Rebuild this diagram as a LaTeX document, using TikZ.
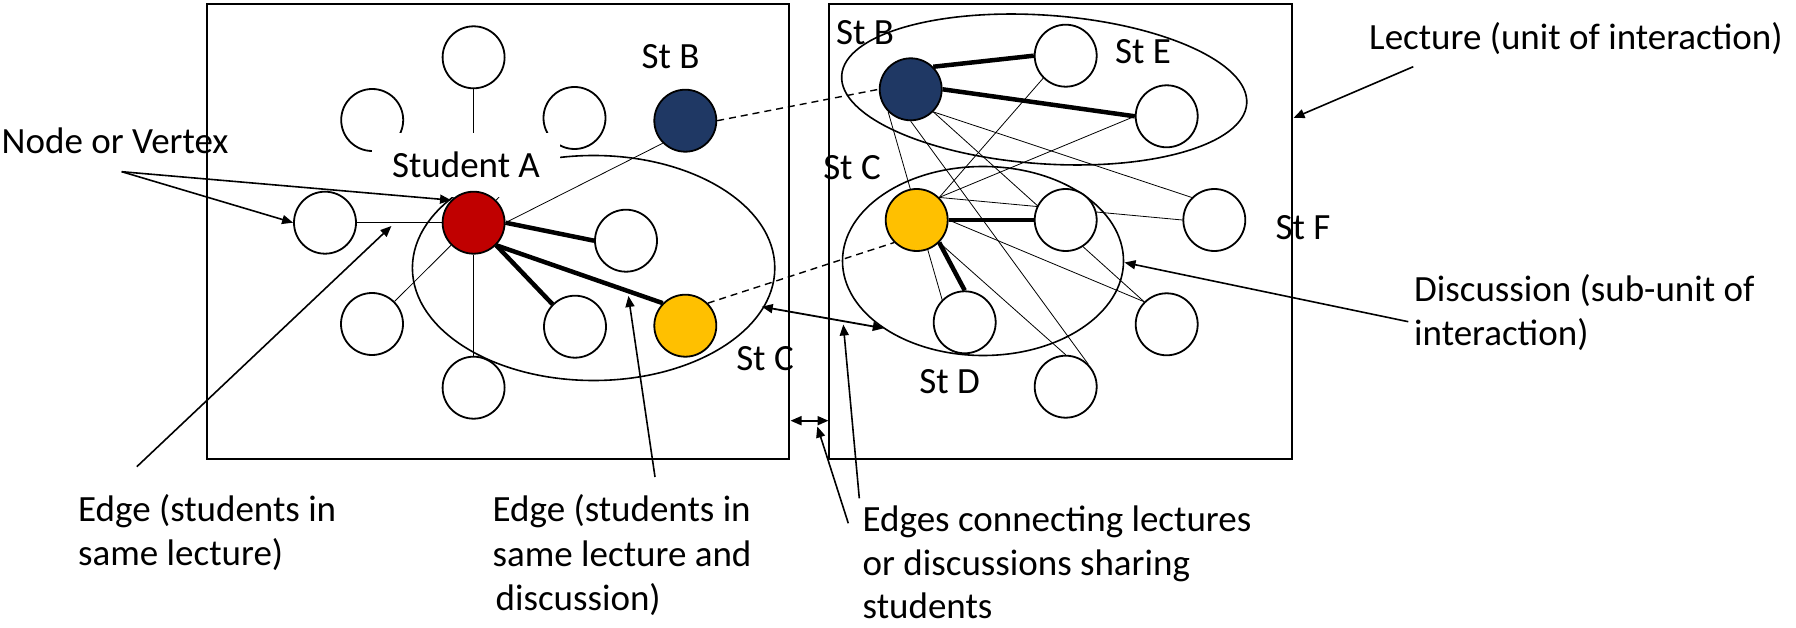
\documentclass[tikz,border=0pt]{standalone}
\usepackage{fontspec}
\setmainfont{Carlito}
\usetikzlibrary{arrows.meta}
\pgfdeclarelayer{back}
\pgfdeclarelayer{mask}
\pgfsetlayers{back,mask,main}
\definecolor{stred}{HTML}{C00000}
\definecolor{stnavy}{HTML}{1F3864}
\definecolor{styellow}{HTML}{FFC000}
\begin{document}
\begin{tikzpicture}[x=1pt,y=-1pt,
  stu/.style={circle,draw=black,line width=1.8pt,fill=white,minimum size=62pt,inner sep=0pt},
  lbl/.style={font=\fontsize{37}{43.5}\selectfont,inner sep=0pt},
  thinedge/.style={line width=0.8pt},
  thickedge/.style={line width=4.5pt},
  boxline/.style={line width=1.7pt},
  ellline/.style={line width=1.6pt},
  arr/.style={line width=1.6pt,-{Triangle[length=11pt,width=9pt]}},
  darr/.style={line width=1.8pt,{Triangle[length=11pt,width=9pt]}-{Triangle[length=11pt,width=9pt]}},
  dashedge/.style={line width=1.4pt,dash pattern=on 7pt off 5pt},
]
\useasboundingbox (0,0) rectangle (1796,628);

% lecture frames
\draw[boxline] (207,4) rectangle (789,459);
\draw[boxline] (829,4) rectangle (1292,459);

% ---------- left lecture nodes ----------
\begin{pgfonlayer}{back}
\node[stu] (lul) at (372.2,120) {};
\node[stu] (lur) at (574.5,118) {};
\end{pgfonlayer}
\node[stu] (lt) at (473.6,57.3) {};
\node[stu,fill=stred] (A) at (473.6,222.7) {};
\node[stu,fill=stnavy] (B1) at (685.3,120.7) {};
\node[stu] (ll) at (325,222.7) {};
\node[stu] (lr) at (626,240.7) {};
\node[stu] (llow) at (372,324) {};
\node[stu] (lmid) at (575,326.7) {};
\node[stu,fill=styellow] (C1) at (685.3,325.7) {};
\node[stu] (lbot) at (473.6,387.7) {};

% ---------- right lecture nodes ----------
\node[stu,fill=stnavy] (B2) at (910.7,89.3) {};
\node[stu] (Et) at (1065.7,55.7) {};
\node[stu] (El) at (1166.7,116.3) {};
\node[stu,fill=styellow] (C2) at (916.7,220) {};
\node[stu] (R) at (1065.7,220) {};
\node[stu] (F) at (1214.3,220) {};
\node[stu] (D) at (964.7,322.3) {};
\node[stu] (LR) at (1166.7,324.3) {};
\node[stu] (Bot) at (1065.7,386.7) {};

% ---------- background: discussions and edges ----------
\begin{pgfonlayer}{back}
\draw[ellline] (593.6,268) ellipse [x radius=181.2, y radius=112.5];
\draw[ellline, rotate around={-4:(1044.2,89.5)}] (1044.2,89.5) ellipse [x radius=203, y radius=74.3];
\draw[ellline] (983,261) ellipse [x radius=140.5, y radius=94.5];
% left lecture
\draw[thinedge] (lt.south) -- (A.north);
\draw[thinedge] (A.north east) -- (lur.south west);
\draw[thinedge] (ll.east) -- (A.west);
\draw[thinedge] (llow.north east) -- (A.south west);
\draw[thinedge] (lbot.north) -- (A.south);
\draw[thickedge] (A.east) -- (lr.west);
\draw[thickedge] (A.south east) -- (lmid.north west);
\draw[thickedge] (A.south east) -- (C1.north west);
% right lecture
\draw[thickedge] (B2.north east) -- (Et.west);
\draw[thickedge] (B2.east) -- (El.west);
\draw[thickedge] (C2.east) -- (R.west);
\draw[thickedge] (C2.south east) -- (D.north);
\draw[thinedge] (B2.south west) -- (D.north west);
\draw[thinedge] (B2.south) -- (Bot.north east);
\draw[thinedge] (B2.south east) -- (F.north west);
\draw[thinedge] (B2.south east) -- (LR.north west);
\draw[thinedge] (Et.south west) -- (C2.north east);
\draw[thinedge] (El.west) -- (C2.north east);
\draw[thinedge] (C2.north east) -- (F.west);
\draw[thinedge] (C2.east) -- (LR.north west);
\draw[thinedge] (C2.south east) -- (Bot.north);
\end{pgfonlayer}

% Student A label (white box)
\begin{pgfonlayer}{mask}
\node[lbl,fill=white,minimum width=188pt,minimum height=64pt] (stA) at (466,165) {Student A};
\end{pgfonlayer}

\draw[thinedge] (A.east) -- (B1.south west);
\draw[dashedge] (B1.east) -- (B2.west);
\draw[dashedge] (C1.north east) -- (C2.south west);

% student labels
\node[lbl,anchor=base] (lStB1) at (670.5,68.3) {St B};
\node[lbl,anchor=base] (lStC1) at (765,370) {St C};
\node[lbl,anchor=base] (lStB2) at (865,45) {St B};
\node[lbl,anchor=base] (lStE) at (1143,64) {St E};
\node[lbl,anchor=base] (lStC2) at (852,180) {St C};
\node[lbl,anchor=base] (lStD) at (949.7,393.3) {St D};
\node[lbl,anchor=base] (lStF) at (1303,239.3) {St F};

% callout texts
\node[lbl,anchor=base west] (tNode) at (1.5,154) {Node or Vertex};
\node[lbl,anchor=base west] (tLect) at (1369,49.3) {Lecture (unit of interaction)};
\node[lbl,anchor=base west] (tDisc1) at (1414,301.7) {Discussion (sub-unit of};
\node[lbl,anchor=base west] (tDisc2) at (1414,345) {interaction)};
\node[lbl,anchor=base west] (tE1a) at (78,521.5) {Edge (students in};
\node[lbl,anchor=base west] (tE1b) at (78,565.5) {same lecture)};
\node[lbl,anchor=base west] (tE2a) at (492.5,521) {Edge (students in};
\node[lbl,anchor=base west] (tE2b) at (492.5,566) {same lecture and};
\node[lbl,anchor=base west] (tE2c) at (492.5,610) {\hspace*{3pt}discussion)};
\node[lbl,anchor=base west] (tE3a) at (862.5,531.7) {Edges connecting lectures};
\node[lbl,anchor=base west] (tE3b) at (862.5,575.5) {or discussions sharing};
\node[lbl,anchor=base west] (tE3c) at (862.5,618.5) {students};

% callout arrows
\coordinate (nvS) at (121.7,171.7);
\draw[arr] (nvS) -- (ll.west);
\draw[arr] (nvS) -- (A.north west);

\coordinate (e1S) at (136.8,466.7);
\coordinate (e1T) at (391.4,226);
\draw[arr] (e1S) -- (e1T);

\coordinate (e2S) at (655,477);
\coordinate (e2T) at (628.4,296);
\draw[arr] (e2S) -- (e2T);

\coordinate (lbE) at (790.5,420.7);
\coordinate (rbW) at (828.5,420.7);
\draw[darr] (lbE) -- (rbW);

\coordinate (dlE) at (761.7,306.7);
\coordinate (drW) at (883.8,328.3);
\draw[darr] (dlE) -- (drW);

\coordinate (e3S1) at (848.3,523.3);
\coordinate (e3T1) at (817.3,426.5);
\draw[arr] (e3S1) -- (e3T1);
\coordinate (e3S2) at (859.3,498.3);
\coordinate (e3T2) at (843.3,324.5);
\draw[arr] (e3S2) -- (e3T2);

\coordinate (lecS) at (1413.3,66.7);
\coordinate (lecT) at (1293.5,118);
\draw[arr] (lecS) -- (lecT);

\coordinate (disS) at (1408.3,321.7);
\coordinate (disT) at (1124.5,262.5);
\draw[arr] (disS) -- (disT);
\end{tikzpicture}
\end{document}
